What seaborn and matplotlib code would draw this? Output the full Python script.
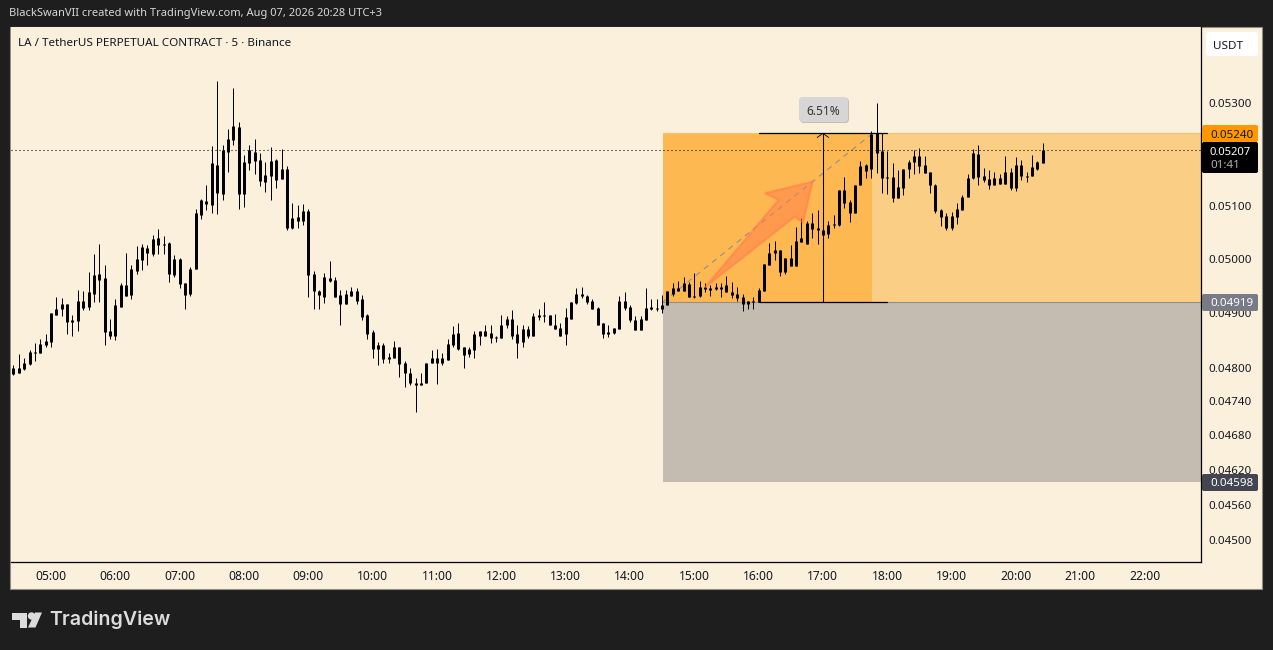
import numpy as np
import pandas as pd
import matplotlib
matplotlib.use('Agg')
import matplotlib.pyplot as plt
from matplotlib.patches import FancyBboxPatch, Polygon, Rectangle
import seaborn as sns

# candles, 5 minute bars, prices in 1e-5 USDT
highs = [4804,4824,4817,4831,4844,4851,4860,4900,4929,4926,4915,4896,4942,4939,4975,5009,5028,4988,4889,4924,
         4954,5011,4988,5023,5028,5025,5045,5055,5042,5032,5006,5002,4954,4984,5094,5113,5139,5215,5344,5217,
         5248,5330,5262,5197,5217,5229,5201,5184,5213,5190,5209,5176,5105,5101,5103,5094,4976,4941,4973,4995,
         4965,4941,4941,4948,4946,4933,4898,4868,4846,4844,4827,4848,4838,4811,4799,4781,4790,4809,4831,4833,
         4827,4851,4875,4880,4837,4838,4866,4866,4878,4877,4857,4896,4893,4904,4877,4877,4875,4900,4907,4920,
         4896,4898,4880,4909,4919,4946,4948,4933,4924,4911,4880,4878,4871,4931,4937,4913,4893,4893,4946,4924,
         4924,4933,4939,4954,4959,4965,4956,4973,4959,4954,4950,4954,4954,4967,4957,4948,4935,4922,4928,4946,
         4989,5030,5034,5017,5002,5025,5060,5077,5071,5086,5092,5083,5071,5083,5130,5155,5111,5139,5186,5180,
         5244,5300,5240,5205,5182,5168,5170,5188,5207,5211,5195,5164,5141,5094,5086,5088,5105,5120,5161,5209,
         5217,5172,5168,5164,5161,5195,5172,5193,5188,5164,5197,5186,5221]
body_tops = [4799,4800,4808,4829,4829,4842,4848,4900,4907,4915,4915,4886,4922,4922,4937,4969,4971,4963,4866,4913,
             4950,4950,4980,4999,5021,5019,5036,5038,5028,5030,4999,4999,4954,4980,5086,5111,5109,5182,5178,5207,
             5229,5254,5252,5184,5207,5203,5188,5159,5186,5188,5170,5170,5077,5079,5090,5090,4971,4939,4965,4963,
             4961,4933,4935,4939,4939,4924,4895,4864,4840,4840,4820,4837,4837,4808,4791,4773,4773,4809,4818,4818,
             4817,4842,4860,4862,4837,4833,4860,4866,4866,4862,4855,4878,4889,4889,4860,4869,4869,4893,4895,4895,
             4896,4878,4871,4891,4919,4935,4935,4931,4922,4909,4880,4864,4871,4922,4922,4911,4887,4889,4909,4911,
             4909,4913,4939,4946,4946,4954,4952,4931,4948,4948,4946,4948,4948,4950,4937,4935,4928,4922,4922,4941,
             4989,5011,5017,5017,5002,5002,5034,5038,5068,5068,5058,5054,5064,5066,5130,5130,5107,5139,5176,5178,
             5238,5240,5205,5155,5155,5136,5170,5184,5195,5195,5178,5164,5139,5092,5081,5081,5094,5117,5153,5201,
             5199,5157,5151,5153,5153,5164,5164,5178,5178,5157,5174,5184,5207]
body_bottoms = [4788,4791,4797,4806,4826,4827,4840,4846,4896,4906,4882,4882,4884,4909,4911,4935,4961,4864,4858,4858,
                4911,4931,4933,4976,4997,5011,5008,5025,5025,4971,4969,4952,4933,4935,4980,5083,5103,5101,5124,5122,
                5203,5227,5122,5122,5182,5186,5147,5145,5157,5149,5151,5057,5057,5071,5071,4969,4939,4933,4929,4959,
                4929,4915,4915,4931,4922,4891,4860,4833,4833,4815,4815,4818,4806,4790,4772,4768,4768,4773,4808,4809,
                4809,4813,4840,4833,4822,4824,4831,4857,4858,4853,4853,4853,4877,4858,4844,4846,4857,4857,4891,4893,
                4878,4869,4858,4860,4889,4917,4931,4920,4907,4878,4860,4860,4862,4869,4909,4886,4868,4868,4887,4907,
                4907,4906,4913,4935,4939,4939,4929,4929,4931,4944,4942,4944,4944,4937,4933,4926,4915,4915,4919,4920,
                4939,4988,5011,4975,4975,4986,4986,5032,5028,5056,5054,5045,5047,5064,5064,5105,5086,5086,5139,5166,
                5170,5201,5153,5153,5115,5115,5134,5170,5184,5176,5163,5139,5090,5079,5058,5058,5079,5092,5117,5153,
                5155,5149,5139,5139,5141,5141,5134,5134,5157,5155,5157,5170,5182]
lows = [4786,4790,4795,4804,4811,4826,4838,4837,4895,4893,4860,4858,4866,4904,4904,4919,4920,4840,4851,4849,
        4911,4931,4924,4971,4978,4988,5004,5008,5008,4956,4965,4946,4907,4931,4980,5075,5092,5086,5084,5111,
        5164,5217,5094,5098,5168,5161,5138,5126,5111,5134,5151,5053,5055,5057,5064,4928,4907,4907,4917,4956,
        4929,4878,4915,4931,4915,4887,4851,4818,4804,4809,4808,4817,4784,4765,4768,4720,4768,4772,4808,4770,
        4804,4813,4838,4831,4799,4820,4818,4840,4857,4844,4846,4853,4871,4851,4818,4838,4853,4857,4886,4882,
        4877,4869,4858,4840,4889,4915,4926,4915,4906,4877,4853,4855,4860,4869,4904,4882,4868,4868,4886,4904,
        4902,4900,4913,4931,4939,4939,4928,4926,4928,4937,4931,4941,4928,4937,4926,4922,4902,4907,4906,4919,
        4939,4988,4997,4967,4971,4986,4986,5032,5028,5038,5028,5043,5038,5058,5062,5096,5069,5086,5139,5153,
        5153,5163,5124,5122,5107,5115,5120,5153,5161,5163,5163,5124,5086,5062,5053,5053,5066,5092,5117,5151,
        5139,5145,5132,5139,5141,5141,5130,5128,5149,5145,5157,5168,5182]

hour_ticks = list(range(5, 23))
hour_labels = ['05:00', '06:00', '07:00', '08:00', '09:00', '10:00', '11:00', '12:00', '13:00',
               '14:00', '15:00', '16:00', '17:00', '18:00', '19:00', '20:00', '21:00', '22:00']
price_ticks = [0.053, 0.051, 0.05, 0.049, 0.048, 0.0474, 0.0468, 0.0462, 0.0456, 0.045]
price_labels = ['0.05300', '0.05100', '0.05000', '0.04900', '0.04800', '0.04740', '0.04680',
                '0.04620', '0.04560', '0.04500']

last_price = 0.05207
target = 0.0524
entry = 0.04919
stop = 0.04598

W, H = 1273, 650
DARK = '#1e1e1e'
CREAM = '#faf0dc'

sns.set_style('white')
plt.rcParams['font.family'] = ['Noto Sans', 'DejaVu Sans']

n = len(highs)
hours = 4 + 25 / 60 + np.arange(n) * 5 / 60
candles = pd.DataFrame({'candle': np.arange(n), 'hour': hours,
                        'high': np.array(highs) / 1e5, 'low': np.array(lows) / 1e5,
                        'top': np.array(body_tops) / 1e5, 'bottom': np.array(body_bottoms) / 1e5})
wicks = candles.melt(id_vars=['candle', 'hour'], value_vars=['high', 'low'], value_name='price')
bodies = candles.melt(id_vars=['candle', 'hour'], value_vars=['top', 'bottom'], value_name='price')

fig = plt.figure(figsize=(W / 100, H / 100), dpi=100, facecolor=DARK)

# chrome behind the chart, in pixel coordinates
back = fig.add_axes([0, 0, 1, 1], zorder=0)
back.set_xlim(0, W)
back.set_ylim(H, 0)
back.axis('off')
back.add_patch(Rectangle((10, 27), 1252, 562, facecolor=CREAM, edgecolor='#8f8c84', lw=0.8))

ax = fig.add_axes([11 / W, 1 - 562 / H, 1189.5 / W, 535 / H], zorder=1, facecolor=CREAM)
ax.set_yscale('log')

# position zones
start = 14.51
split = 17.77
x_end = 22.87
ax.add_patch(Rectangle((start, entry), split - start, target - entry, color='#feb852', lw=0, zorder=1))
ax.add_patch(Rectangle((split, entry), x_end - split, target - entry, color='#fbce85', lw=0, zorder=1))
ax.add_patch(Rectangle((start, stop), x_end - start, entry - stop, color='#c4bcb0', lw=0, zorder=1))
ax.plot([start, x_end], [target, target], color='#f9c070', lw=0.8, zorder=1.5)
ax.plot([start, x_end], [entry, entry], color='#8c8f9a', lw=0.8, zorder=1.5)
ax.plot([start, split], [entry, target], color='#8e8f94', lw=0.8, dashes=(5, 4.5), zorder=1.5)

ax.axhline(last_price, color='black', lw=0.75, ls=(0, (1, 2.84)), zorder=2)

sns.lineplot(data=wicks, x='hour', y='price', units='candle', estimator=None, color='black',
             linewidth=0.72, solid_capstyle='butt', legend=False, ax=ax, zorder=3)
sns.lineplot(data=bodies, x='hour', y='price', units='candle', estimator=None, color='black',
             linewidth=2.16, solid_capstyle='butt', legend=False, ax=ax, zorder=3)

# measure tool
ax.plot([16.0, 18.0], [target, target], color='black', lw=0.9, zorder=4)
ax.plot([16.0, 18.0], [entry, entry], color='black', lw=0.9, zorder=4)
ax.plot([17.0, 17.0], [entry, target], color='black', lw=0.75, zorder=4)
ax.plot([16.91, 17.0, 17.09], [0.05232, target, 0.05232], color='black', lw=0.6, zorder=4)

# drawn arrow
arrow_hours = [15.163, 16.10, 16.31, 16.56, 16.69, 16.84]
arrow_prices = [0.04946, 0.05124, 0.05111, 0.05079, 0.05068, 0.05146]
arrow_order = [0, 2, 1, 5, 4, 3]
ax.add_patch(Polygon([(arrow_hours[i], arrow_prices[i]) for i in arrow_order], closed=True,
                     facecolor='#ff7b4a', edgecolor='#ff7b4a', alpha=0.5, lw=1.6, zorder=5))

ax.set_xlim(4.378, x_end)
ax.set_ylim(0.04463, 0.05453)
ax.set_xlabel('')
ax.set_ylabel('')
ax.set_xticks(hour_ticks)
ax.set_xticklabels(hour_labels, fontsize=8.7, color='#131722', fontweight='medium')
ax.yaxis.tick_right()
ax.set_yticks(price_ticks)
ax.set_yticklabels(price_labels, fontsize=8.3, color='#131722', va='center_baseline')
ax.minorticks_off()
ax.tick_params(axis='x', length=0, pad=6)
ax.tick_params(axis='y', length=0, pad=6)
ax.grid(False)
for side in ['top', 'left']:
    ax.spines[side].set_visible(False)
for side in ['bottom', 'right']:
    ax.spines[side].set_color('black')
    ax.spines[side].set_linewidth(0.9)

# chrome on top of the chart, in pixel coordinates
over = fig.add_axes([0, 0, 1, 1], zorder=2)
over.set_xlim(0, W)
over.set_ylim(H, 0)
over.axis('off')
over.patch.set_alpha(0)


def badge(x0, y0, x1, y1, color, radius=2, **kw):
    over.add_patch(FancyBboxPatch((x0 + radius, y0 + radius), x1 - x0 - 2 * radius, y1 - y0 - 2 * radius,
                                  boxstyle=f'round,pad={radius},rounding_size={radius}',
                                  facecolor=color, edgecolor='none', **kw))


over.text(9, 13.5, 'BlackSwanVII created with TradingView.com, Aug 07, 2026 20:28 UTC+3', color='#d8d8d8',
          fontsize=8, va='center', ha='left', fontweight='medium')
over.text(18, 42.5, 'LA / TetherUS PERPETUAL CONTRACT · 5 · Binance', color='#131722', fontsize=8.4,
          va='center_baseline', ha='left')

badge(1206, 32, 1258, 56, 'white', radius=3)
over.text(1228, 45, 'USDT', color='#131722', fontsize=8.4, ha='center', va='center_baseline')

badge(1202, 125, 1258, 142, '#ff9800')
over.text(1210, 133.5, '0.05240', color='#131722', fontsize=8.3, va='center_baseline')
badge(1202, 142, 1258, 173, 'black')
over.text(1210, 151, '0.05207', color='white', fontsize=8.1, va='center_baseline', fontweight='bold')
over.text(1210, 164.5, '01:41', color='#b2b2b2', fontsize=8.3, va='center_baseline')
badge(1202, 294, 1258, 311, '#787b86')
over.text(1210, 302.5, '0.04919', color='white', fontsize=8.3, va='center_baseline', fontweight='medium')
badge(1202, 474, 1258, 491, '#434651')
over.text(1210, 482.5, '0.04598', color='white', fontsize=8.3, va='center_baseline', fontweight='medium')

badge(800, 98, 849, 123, '#c4bfb4', radius=4)
badge(799, 97, 848, 122, '#d6d6d6', radius=4)
over.text(823.5, 110, '6.51%', color='#333333', fontsize=8.6, ha='center', va='center_baseline')

# TradingView logo
logo = '#dcdcdc'
over.add_patch(Polygon([(12, 612.5), (27, 612.5), (27, 627.5), (19.5, 627.5), (19.5, 620), (12, 620)], closed=True,
                       facecolor=logo, edgecolor='none'))
over.add_patch(plt.Circle((31.5, 616), 3.7, facecolor=logo, edgecolor='none'))
over.add_patch(Polygon([(35, 612.5), (42, 612.5), (35.5, 627.5), (28, 627.5)], closed=True, facecolor=logo,
                       edgecolor='none'))
over.text(49, 620, 'TradingView', color=logo, fontsize=14.1, va='center', ha='left', family='Inter',
          fontweight='semibold')

fig.savefig('out.png', dpi=100, facecolor=DARK)
